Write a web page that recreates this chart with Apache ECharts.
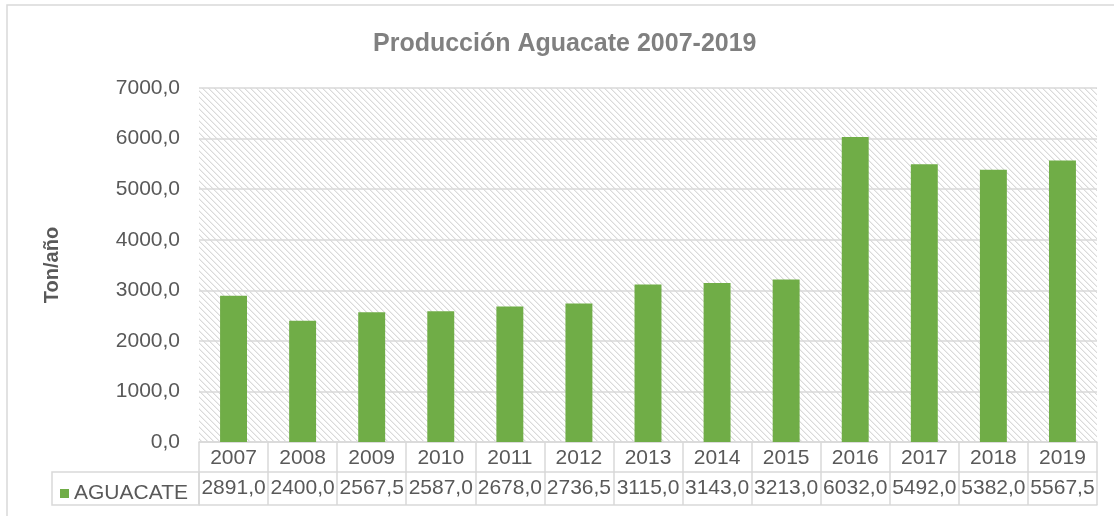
<!DOCTYPE html>
<html>
<head>
<meta charset="utf-8">
<script src="https://cdn.jsdelivr.net/npm/echarts@6/dist/echarts.min.js"></script>
<style>
  html, body { margin: 0; padding: 0; background: #fff; }
  #main { width: 1114px; height: 516px; }
</style>
</head>
<body>
<div id="main"></div>
<script>
var years = ['2007', '2008', '2009', '2010', '2011', '2012', '2013', '2014', '2015', '2016', '2017', '2018', '2019']
var aguacate = [2891.0, 2400.0, 2567.5, 2587.0, 2678.0, 2736.5, 3115.0, 3143.0, 3213.0, 6032.0, 5492.0, 5382.0, 5567.5]
var seriesName = 'AGUACATE'
var titleText = 'Producción Aguacate 2007-2019'
var yName = 'Ton/año'

var font = "'Liberation Sans', Arial, sans-serif"
var textColor = '#595959'
var lineColor = '#d9d9d9'

function fmt(v) {
  return v.toFixed(1).replace('.', ',')
}

// hatch pattern for the plot background
var hatch = document.createElement('canvas')
hatch.width = 6
hatch.height = 6
var ctx = hatch.getContext('2d')
ctx.fillStyle = '#ffffff'
ctx.fillRect(0, 0, 6, 6)
for (var i = 0; i < 6; i++) {
  ctx.fillStyle = '#dadada'
  ctx.fillRect(i, i, 1, 1)
  ctx.fillStyle = '#efefef'
  ctx.fillRect((i + 1) % 6, i, 1, 1)
}

var chart = echarts.init(document.getElementById('main'))
chart.setOption({
  animation: false,
  textStyle: { fontFamily: font },
  title: {
    text: titleText,
    left: 368,
    top: 27,
    textStyle: { color: '#808080', fontSize: 25, fontWeight: 'bold', fontFamily: font }
  },
  legend: {
    data: [seriesName],
    left: 55,
    top: 478,
    icon: 'rect',
    itemWidth: 9,
    itemHeight: 9,
    itemGap: 4,
    textStyle: { color: textColor, fontSize: 21, fontFamily: font }
  },
  grid: {
    left: 199,
    right: 17,
    top: 88,
    bottom: 74,
    show: true,
    borderWidth: 0,
    backgroundColor: { image: hatch, repeat: 'repeat' }
  },
  xAxis: [
    {
      type: 'category',
      data: years,
      position: 'bottom',
      axisLine: { lineStyle: { color: lineColor, width: 1.5 } },
      axisTick: { show: true, interval: 0, length: 63, lineStyle: { color: lineColor, width: 1.5 } },
      axisLabel: { color: textColor, fontSize: 21, margin: 6, interval: 0 }
    },
    {
      type: 'category',
      data: years,
      position: 'bottom',
      offset: 30,
      axisLine: { lineStyle: { color: lineColor, width: 1.5 } },
      axisTick: { show: false },
      axisLabel: {
        color: textColor,
        fontSize: 21,
        margin: 6,
        interval: 0,
        formatter: function(v, idx) {
          return fmt(aguacate[idx])
        }
      }
    },
    {
      type: 'category',
      data: years,
      position: 'bottom',
      offset: 63,
      axisLine: { lineStyle: { color: lineColor, width: 1.5 } },
      axisTick: { show: false },
      axisLabel: { show: false }
    }
  ],
  yAxis: {
    type: 'value',
    min: 0,
    max: 7000,
    interval: 1000,
    name: yName,
    nameLocation: 'middle',
    nameGap: 137,
    nameTextStyle: { color: textColor, fontSize: 20, fontWeight: 'bold', fontFamily: font },
    axisLine: { show: false },
    axisTick: { show: false },
    axisLabel: { color: textColor, fontSize: 21, margin: 19, formatter: fmt },
    splitLine: { lineStyle: { color: lineColor, width: 1.5 } }
  },
  series: [{
    name: seriesName,
    type: 'bar',
    xAxisIndex: 0,
    data: aguacate,
    barWidth: '39%',
    itemStyle: { color: '#70ad47' }
  }],
  graphic: [
    {
      type: 'rect',
      shape: { x: 7, y: 5, width: 1120, height: 520 },
      style: { fill: 'none', stroke: lineColor, lineWidth: 1.5 },
      silent: true
    },
    {
      type: 'rect',
      shape: { x: 52, y: 472, width: 147, height: 33 },
      style: { fill: 'none', stroke: lineColor, lineWidth: 1.5 },
      silent: true
    }
  ]
})
</script>
</body>
</html>
